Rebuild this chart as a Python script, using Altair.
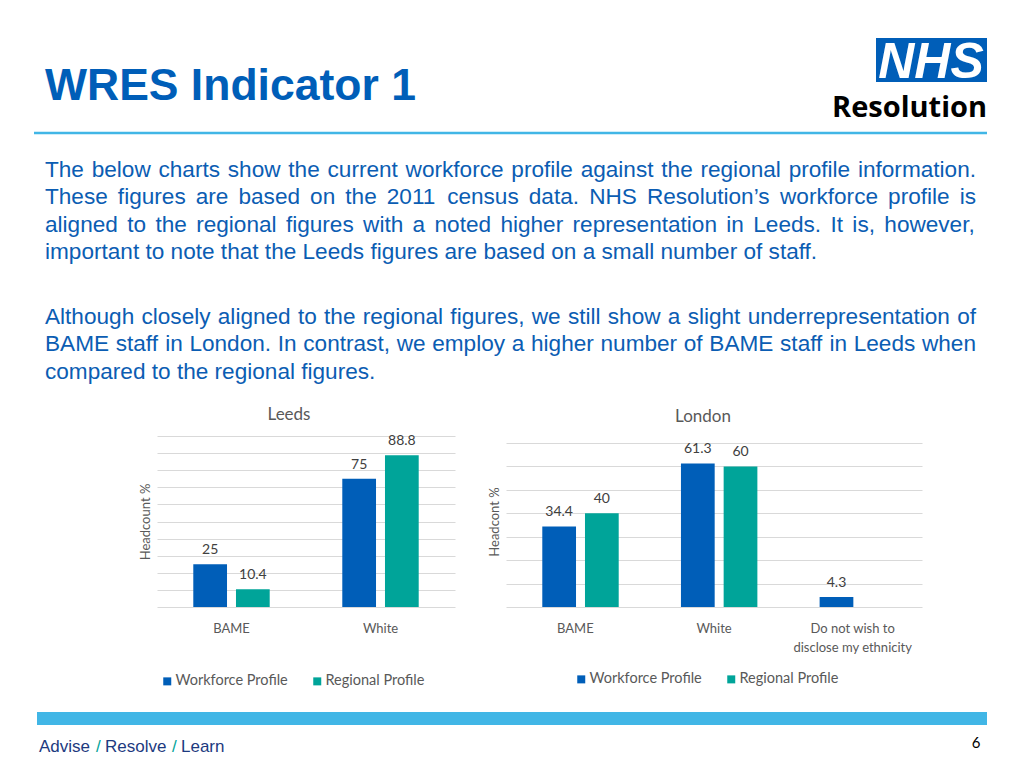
import altair as alt
import pandas as pd

# ---------------- data ----------------
series = ["Workforce Profile", "Regional Profile"]

leeds_categories = ["BAME", "White"]
leeds_workforce = [25, 75]
leeds_regional = [10.4, 88.8]

london_categories = ["BAME", "White", "Do not wish to\ndisclose my ethnicity"]
london_workforce = [34.4, 61.3, 4.3]
london_regional = [40, 60, None]

title_text = "WRES Indicator 1"
para1 = [
    "The below charts show the current workforce profile against the regional profile information.",
    "These figures are based on the 2011 census data. NHS Resolution\u2019s workforce profile is",
    "aligned to the regional figures with a noted higher representation in Leeds. It is, however,",
    "important to note that the Leeds figures are based on a small number of staff.",
]
para2 = [
    "Although closely aligned to the regional figures, we still show a slight underrepresentation of",
    "BAME staff in London. In contrast, we employ a higher number of BAME staff in Leeds when",
    "compared to the regional figures.",
]
footer_parts = ["Advise", "/", "Resolve", "/", "Learn"]
page_number = "6"

# ---------------- style ----------------
BLUE = "#005EB8"
TEAL = "#00A499"
LIGHT_BLUE = "#41B6E6"
TEXT_BLUE = "#0B5DB3"
DARK_BLUE = "#1D3A80"
GREY = "#595959"
CHART_FONT = "Lato"
SLIDE_FONT = "Liberation Sans"
PARA_SIZE = 22.6

# Arial / Liberation Sans advance widths (1/1000 em) used to justify the paragraph lines
_W = {" ": 278, ",": 278, ".": 278, "\u2019": 222, "'": 191, "0": 556, "1": 556, "2": 556,
      "A": 667, "B": 667, "E": 667, "H": 722, "I": 278, "L": 556, "M": 833, "N": 722,
      "R": 722, "S": 667, "T": 611,
      "a": 556, "b": 556, "c": 500, "d": 556, "e": 556, "f": 278, "g": 556, "h": 556,
      "i": 222, "j": 222, "k": 500, "l": 222, "m": 833, "n": 556, "o": 556, "p": 556,
      "q": 556, "r": 333, "s": 500, "t": 278, "u": 556, "v": 500, "w": 722, "x": 500,
      "y": 500, "z": 500}


def text_width(s, size):
    return sum(_W.get(ch, 556) for ch in s) * size / 1000.0


def paragraph_words(lines, x0, y0, line_gap, width, size):
    rows = []
    for i, line in enumerate(lines):
        words = line.split(" ")
        ws = [text_width(w, size) for w in words]
        last = i == len(lines) - 1
        if last or len(words) < 2:
            gap = text_width(" ", size)
        else:
            gap = (width - sum(ws)) / (len(words) - 1)
        x = x0
        for w, wd in zip(words, ws):
            rows.append({"word": w, "px": x, "py": y0 + line_gap * i})
            x += wd + gap
    return rows


def frame(cats, wf, rg):
    rows = []
    for c, a, b in zip(cats, wf, rg):
        if a is not None:
            rows.append({"category": c, "series": series[0], "value": a})
        if b is not None:
            rows.append({"category": c, "series": series[1], "value": b})
    return pd.DataFrame(rows)


def bar_chart(df, cats, title, ytitle, width, ymax, grid_max, po, pi,
              title_dx, legend_x, legend_y):
    base = alt.Chart(df).encode(
        x=alt.X(
            "category:N",
            sort=cats,
            scale=alt.Scale(paddingInner=0, paddingOuter=0),
            axis=alt.Axis(
                title=None, labelAngle=0, ticks=False, domain=False, grid=False,
                labelFont=CHART_FONT, labelFontSize=13, labelColor=GREY,
                labelPadding=15, labelLineHeight=19,
                labelExpr="split(datum.label, '\\n')",
            ),
        ),
        xOffset=alt.XOffset(
            "series:N", sort=series,
            scale=alt.Scale(paddingInner=pi, paddingOuter=po),
        ),
        y=alt.Y(
            "value:Q",
            scale=alt.Scale(domain=[0, ymax], nice=False),
            axis=alt.Axis(
                title=ytitle, values=list(range(0, grid_max + 1, 10)),
                labels=False, ticks=False, domain=False,
                gridColor="#D9D9D9", gridWidth=1,
                titleFont=CHART_FONT, titleFontSize=13, titleColor=GREY,
                titleFontWeight="normal", titlePadding=5,
            ),
        ),
    )
    bars = base.mark_bar().encode(
        color=alt.Color(
            "series:N",
            scale=alt.Scale(domain=series, range=[BLUE, TEAL]),
            legend=alt.Legend(
                title=None, orient="none", direction="horizontal",
                legendX=legend_x, legendY=legend_y, padding=0,
                symbolType="square", symbolSize=64, symbolStrokeWidth=0,
                labelFont=CHART_FONT, labelFontSize=14.5, labelColor=GREY,
                labelOffset=1, columnPadding=22,
            ),
        )
    )
    labels = base.mark_text(
        baseline="alphabetic", dy=-10, font=CHART_FONT, fontSize=14, color="#404040"
    ).encode(text=alt.Text("value:Q"))
    return alt.layer(bars, labels).properties(
        width=width, height=171,
        title=alt.TitleParams(
            title, font=CHART_FONT, fontSize=17, fontWeight="normal", color=GREY,
            baseline="alphabetic", offset=-3, dx=title_dx,
        ),
    )


leeds = bar_chart(
    frame(leeds_categories, leeds_workforce, leeds_regional), leeds_categories,
    "Leeds", "Headcount %", 298, 100, 100, 0.85, 0.21, -17, 3, 238,
)
london = bar_chart(
    frame(london_categories, london_workforce, london_regional), london_categories,
    "London", "Headcont %", 416, 73, 70, 0.88, 0.205, -11, 68, 236,
)

one = alt.Data(values=[{}])


def txt(text, x, y, size, color, font=SLIDE_FONT, weight="normal", style="normal",
        align="left", baseline="alphabetic"):
    return alt.Chart(one).mark_text(
        text=text, font=font, fontSize=size, color=color, fontWeight=weight,
        fontStyle=style, align=align, baseline=baseline,
    ).encode(x=alt.value(x), y=alt.value(y))


# ---------------- header ----------------
words = pd.DataFrame(
    paragraph_words(para1, 37, 169, 27.3, 931, PARA_SIZE)
    + paragraph_words(para2, 37, 316, 27.3, 931, PARA_SIZE)
)
para_layer = alt.Chart(words).mark_text(
    font=SLIDE_FONT, fontSize=PARA_SIZE, color=TEXT_BLUE, align="left", baseline="alphabetic"
).encode(
    x=alt.X("px:Q", scale=None, axis=None),
    y=alt.Y("py:Q", scale=None, axis=None),
    text="word:N",
)

header_layers = [
    txt(title_text, 37, 92, 44.5, BLUE, weight="bold"),
    alt.Chart(one).mark_rule(color=LIGHT_BLUE, strokeWidth=2.5).encode(
        x=alt.value(26), x2=alt.value(979), y=alt.value(125)
    ),
    alt.Chart(one).mark_rect(color=BLUE).encode(
        x=alt.value(868), x2=alt.value(979), y=alt.value(30), y2=alt.value(74)
    ),
    txt("NHS", 923, 70, 50, "white", weight="bold", style="italic", align="center"),
    txt("Resolution", 979, 109, 29, "black", font="Open Sans", weight="bold", align="right"),
    para_layer,
]
header = alt.layer(*header_layers).properties(width=1008, height=428)

# ---------------- footer ----------------
# the flush layout starts the footer where the chart row starts (page y = 436)
footer_x = [31, 88, 97, 164, 173]
footer_layers = [
    alt.Chart(one).mark_rect(color=LIGHT_BLUE).encode(
        x=alt.value(29), x2=alt.value(979), y=alt.value(276), y2=alt.value(289)
    ),
    txt(page_number, 968, 312, 15, "black", font=CHART_FONT, align="center"),
]
for part, x in zip(footer_parts, footer_x):
    footer_layers.append(txt(part, x, 316, 17, TEAL if part == "/" else DARK_BLUE))
footer = alt.layer(*footer_layers).properties(width=1008, height=324)

spacer = alt.Chart(one).mark_point(opacity=0, size=1).encode(
    x=alt.value(50), y=alt.value(50)
).properties(width=98, height=171)

row = alt.hconcat(spacer, leeds, london, spacing=51, bounds="flush").resolve_scale(
    color="independent"
).resolve_legend(color="independent")

chart = alt.vconcat(header, row, footer, spacing=0, bounds="flush").properties(
    padding=0, background="white"
).configure_view(stroke=None)

chart.save("out.html", embed_options={"renderer": "svg", "actions": False})
